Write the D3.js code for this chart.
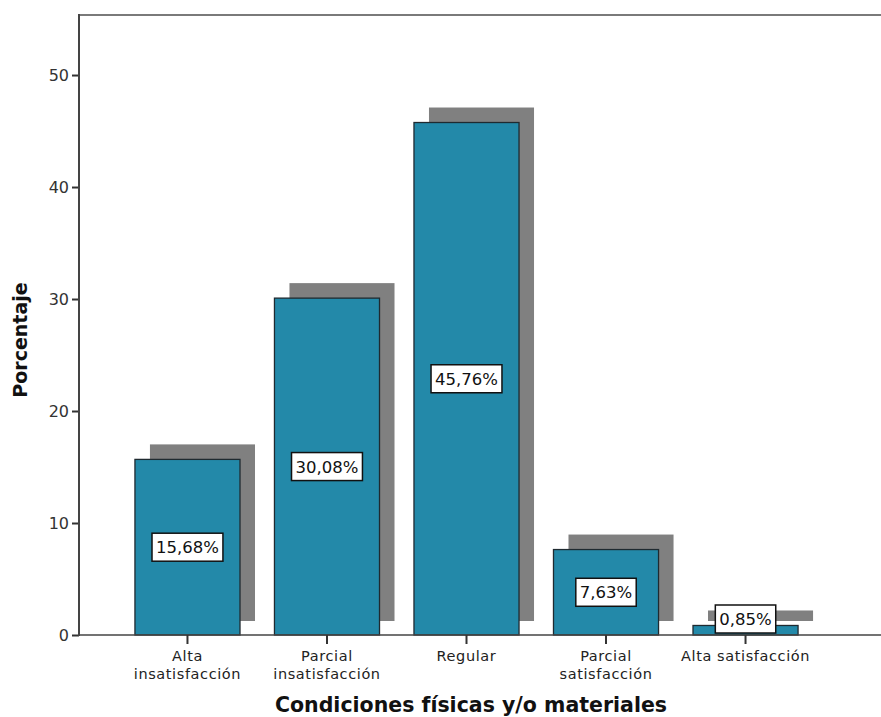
<!DOCTYPE html>
<html>
<head>
<meta charset="utf-8">
<script src="https://cdn.jsdelivr.net/npm/d3@7"></script>
<style>
  html, body { margin: 0; padding: 0; background: #fff; }
  svg { display: block; font-family: "DejaVu Sans", Verdana, sans-serif; }
</style>
</head>
<body>
<svg id="chart" width="881" height="717"></svg>
<script>
// Distribution of answers on physical and material conditions
const categories = [
  ["Alta", "insatisfacción"],
  ["Parcial", "insatisfacción"],
  ["Regular"],
  ["Parcial", "satisfacción"],
  ["Alta satisfacción"]
];
const percentages = [15.68, 30.08, 45.76, 7.63, 0.85];
const yTicks = [0, 10, 20, 30, 40, 50];
const valueLabels = ["15,68%", "30,08%", "45,76%", "7,63%", "0,85%"];

const fontFamily = "DejaVu Sans, Verdana, sans-serif";
const svg = d3.select("#chart");
const plotLeft = 79, plotTop = 15, baseline = 635, plotRight = 854;

const x = d3.scaleBand()
  .domain(d3.range(categories.length))
  .range([plotLeft, plotRight])
  .paddingInner(0.247)
  .paddingOuter(0.401);

const y = d3.scaleLinear()
  .domain([0, 55.36])
  .range([baseline, plotTop]);

const shadowOffset = 15;
const shadowLift = 14;

// frame top line
svg.append("line")
  .attr("x1", plotLeft).attr("x2", 881)
  .attr("y1", plotTop).attr("y2", plotTop)
  .attr("stroke", "#7a7a7a").attr("stroke-width", 2);

// bar shadows
svg.append("g").selectAll("rect")
  .data(percentages)
  .join("rect")
  .attr("x", (d, i) => x(i) + shadowOffset)
  .attr("y", d => y(d) - shadowOffset)
  .attr("width", x.bandwidth())
  .attr("height", d => (y(0) - shadowLift) - (y(d) - shadowOffset))
  .attr("fill", "#808080");

// bars
svg.append("g").selectAll("rect")
  .data(percentages)
  .join("rect")
  .attr("x", (d, i) => x(i))
  .attr("y", d => y(d))
  .attr("width", x.bandwidth())
  .attr("height", d => y(0) - y(d))
  .attr("fill", "#2389a9")
  .attr("stroke", "#1f2a30")
  .attr("stroke-width", 1.3);

// y axis
const yAxis = svg.append("g")
  .attr("transform", `translate(${plotLeft},0)`)
  .call(d3.axisLeft(y).tickValues(yTicks).tickSize(7).tickSizeOuter(0).tickPadding(3));
yAxis.select(".domain").remove();
yAxis.selectAll(".tick line").attr("stroke", "#333").attr("stroke-width", 2);
yAxis.selectAll(".tick text").attr("font-size", 16).attr("fill", "#333")
  .attr("font-family", fontFamily);
svg.append("line")
  .attr("x1", plotLeft).attr("x2", plotLeft)
  .attr("y1", plotTop - 1).attr("y2", baseline + 1)
  .attr("stroke", "#444").attr("stroke-width", 2);

// x axis baseline + ticks
svg.append("line")
  .attr("x1", plotLeft).attr("x2", 881)
  .attr("y1", baseline).attr("y2", baseline)
  .attr("stroke", "#444").attr("stroke-width", 1.6);

const xAxis = svg.append("g")
  .attr("transform", `translate(0,${baseline})`)
  .call(d3.axisBottom(x).tickSize(9).tickSizeOuter(0).tickFormat(""));
xAxis.select(".domain").remove();
xAxis.selectAll(".tick line").attr("stroke", "#333").attr("stroke-width", 2);

// category labels
const catG = svg.append("g");
categories.forEach((lines, i) => {
  const cx = x(i) + x.bandwidth() / 2;
  const t = catG.append("text")
    .attr("x", cx)
    .attr("y", 661)
    .attr("text-anchor", "middle")
    .attr("font-size", 14.5)
    .attr("letter-spacing", 0.6)
    .attr("fill", "#222");
  lines.forEach((ln, j) => {
    t.append("tspan")
      .attr("x", cx)
      .attr("dy", j === 0 ? 0 : 18)
      .text(ln);
  });
});

// value labels in boxes
const boxH = 28;
const lab = svg.append("g").selectAll("g")
  .data(percentages)
  .join("g")
  .attr("transform", (d, i) => {
    const cy = Math.min((y(d) + y(0)) / 2, y(0) - 2 - boxH / 2);
    return `translate(${x(i) + x.bandwidth() / 2},${cy})`;
  });
lab.append("text")
  .attr("text-anchor", "middle")
  .attr("dy", "0.36em")
  .attr("font-size", 16.5)
  .attr("fill", "#111")
  .text((d, i) => valueLabels[i]);
lab.each(function() {
  const g = d3.select(this);
  const bb = g.select("text").node().getBBox();
  g.insert("rect", "text")
    .attr("x", bb.x - 4)
    .attr("y", -boxH / 2)
    .attr("width", bb.width + 8)
    .attr("height", boxH)
    .attr("fill", "#fff")
    .attr("stroke", "#111")
    .attr("stroke-width", 1.5);
});

// axis titles
svg.append("text")
  .attr("x", 471).attr("y", 712)
  .attr("text-anchor", "middle")
  .attr("font-size", 20.5).attr("font-weight", "bold").attr("fill", "#111")
  .text("Condiciones físicas y/o materiales");

svg.append("text")
  .attr("transform", "translate(27,340) rotate(-90)")
  .attr("text-anchor", "middle")
  .attr("font-size", 19).attr("font-weight", "bold").attr("fill", "#111")
  .text("Porcentaje");
</script>
</body>
</html>
